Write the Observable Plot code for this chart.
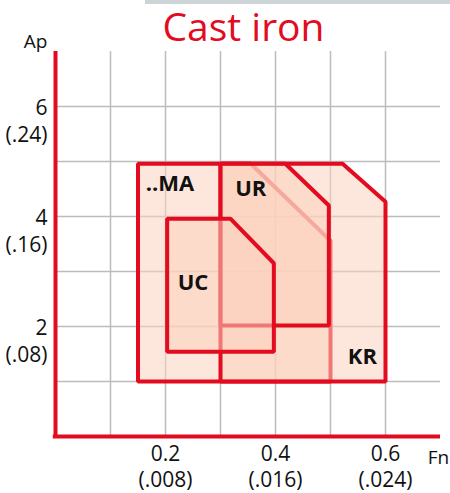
<!DOCTYPE html>
<html>
<head>
<meta charset="utf-8">
<script src="https://cdn.jsdelivr.net/npm/d3@7"></script>
<script src="https://cdn.jsdelivr.net/npm/@observablehq/plot@0.6"></script>
<style>
  html, body { margin: 0; padding: 0; background: #fff; }
  #wrap { position: relative; width: 450px; height: 493px; }
  #bar { position: absolute; left: 145px; top: 0; width: 305px; height: 4px; background: #cdd4d6; }
  #chart { position: absolute; left: 0; top: 0; }
  text.tick { font-family: Lato, "Open Sans", sans-serif; letter-spacing: 1.5px; }
  text.ytick { font-family: Lato, "Open Sans", sans-serif; letter-spacing: 0px; }
</style>
</head>
<body>
<div id="wrap"><div id="chart"></div><div id="bar"></div></div>
<script>
// ---- data ----
const title = "Cast iron";
const xAxisLabel = "Fn";
const yAxisLabel = "Ap";
const shapeNames = ["..MA", "KR", "UR", "UC"];
const shapeFn = [
  [0.15, 0.15, 0.355, 0.5, 0.5],
  [0.3, 0.3, 0.522, 0.6, 0.6],
  [0.3, 0.3, 0.418, 0.497, 0.497],
  [0.203, 0.203, 0.318, 0.397, 0.397]
];
const shapeAp = [
  [1, 4.96, 4.96, 3.56, 1],
  [1, 4.96, 4.96, 4.27, 1],
  [2.02, 4.96, 4.96, 4.2, 2.02],
  [1.54, 3.96, 3.96, 3.15, 1.54]
];
const labelText = ["..MA", "UR", "UC", "KR"];
const labelFn = [0.208, 0.355, 0.25, 0.558];
const labelAp = [4.6, 4.5, 2.8, 1.45];
const xTicks = [0.2, 0.4, 0.6];
const xTickLabels = ["0.2", "0.4", "0.6"];
const xTickSub = ["(.008)", "(.016)", "(.024)"];
const yTicks = [2, 4, 6];
const yTickLabels = ["2", "4", "6"];
const yTickSub = ["(.08)", "(.16)", "(.24)"];
const gridX = [0.1, 0.2, 0.3, 0.4, 0.5, 0.6];
const gridY = [1, 2, 3, 4, 5, 6];

// ---- build ----
const pts = [];
shapeNames.forEach((n, i) => shapeFn[i].forEach((fx, j) => pts.push({name: n, fn: fx, ap: shapeAp[i][j]})));

const RED = "#e30b1f";
const FONT = "Open Sans, Noto Sans, sans-serif";

const chart = Plot.plot({
  width: 450,
  height: 493,
  marginLeft: 55,
  marginRight: 10,
  marginTop: 51,
  marginBottom: 57,
  x: {domain: [0, 0.7], axis: null},
  y: {domain: [0, 7], axis: null},
  style: {fontFamily: FONT, background: "transparent"},
  marks: [
    Plot.ruleX(gridX, {y1: 0, y2: 7, stroke: "#bcbcbc", strokeWidth: 1.5, strokeOpacity: 1}),
    Plot.ruleY(gridY, {x1: 0, x2: 0.7, stroke: "#bcbcbc", strokeWidth: 1.5, strokeOpacity: 1}),
    Plot.line(pts, {
      x: "fn", y: "ap", z: "name",
      curve: "linear-closed",
      fill: "#fbd1be", fillOpacity: 0.55,
      stroke: RED, strokeWidth: 4, strokeLinejoin: "miter", strokeLinecap: "butt"
    }),
    Plot.ruleX([0], {y1: 0, y2: 7, stroke: RED, strokeWidth: 4}),
    Plot.ruleY([0], {x1: -0.004, x2: 0.7, stroke: RED, strokeWidth: 4}),
    Plot.text(labelText, {x: (d, i) => labelFn[i], y: (d, i) => labelAp[i], text: d => d,
      fontSize: 22, fontWeight: "bold", fill: "#111"}),
    Plot.text(yTicks, {x: 0, y: d => d, text: (d, i) => yTickLabels[i], textAnchor: "end", dx: -8, dy: 2,
      fontSize: 21, fill: "#111", className: "ytick"}),
    Plot.text(yTicks, {x: 0, y: d => d, text: (d, i) => yTickSub[i], textAnchor: "end", dx: -8, dy: 29,
      fontSize: 21, fill: "#111", className: "ytick"}),
    Plot.text(xTicks, {x: d => d, y: 0, text: (d, i) => xTickLabels[i], dy: 18,
      fontSize: 21, fill: "#111", className: "tick"}),
    Plot.text(xTicks, {x: d => d, y: 0, text: (d, i) => xTickSub[i], dy: 44,
      fontSize: 21, fill: "#111", className: "tick"}),
    Plot.text([title], {frameAnchor: "top-left", lineAnchor: "middle", textAnchor: "middle", dx: 188, dy: -23,
      fontSize: 39, fill: RED, text: d => d}),
    Plot.text([yAxisLabel], {frameAnchor: "top-left", lineAnchor: "middle", textAnchor: "middle", dx: -20, dy: -10,
      fontSize: 19, fill: "#111", text: d => d}),
    Plot.text([xAxisLabel], {frameAnchor: "bottom-right", lineAnchor: "middle", textAnchor: "middle", dx: -2, dy: 21,
      fontSize: 19, fill: "#111", text: d => d})
  ]
});
document.getElementById("chart").appendChild(chart);
</script>
</body>
</html>
